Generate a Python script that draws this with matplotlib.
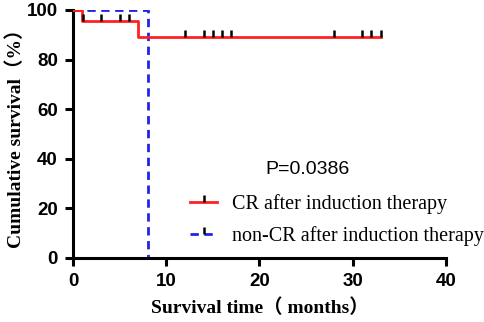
import matplotlib
matplotlib.use("Agg")
import matplotlib.pyplot as plt
from matplotlib.lines import Line2D

# Data
cr_times = [0, 1, 7, 33]
cr_surv = [100, 95.5, 89.2, 89.2]
cr_censor_t = [1.1, 3, 5, 6, 12, 14, 15, 16, 17, 28, 31, 32, 33]
noncr_times = [0, 8, 8]
noncr_surv = [100, 100, 0]
x_ticks = [0, 10, 20, 30, 40]
y_ticks = [0, 20, 40, 60, 80, 100]
p_text = "P=0.0386"
labels = ["CR after induction therapy", "non-CR after induction therapy"]

def surv_at(t):
    s = cr_surv[0]
    for tt, ss in zip(cr_times, cr_surv):
        if tt <= t:
            s = ss
    return s

fig = plt.figure(figsize=(4.84, 3.22), dpi=100)
ax = fig.add_axes([0.151, 0.199, 0.770, 0.770])

ax.plot(noncr_times, noncr_surv, color="#2323e6", lw=2.0, ls=(0, (3, 2)), zorder=2)
ax.step(cr_times, cr_surv, where="post", color="#ff2020", lw=2.0, zorder=3)
ax.plot(cr_censor_t, [surv_at(t) for t in cr_censor_t], ls="none", marker=2,
        ms=5, mew=1.8, color="black", zorder=4)

ax.set_xlim(0, 40)
ax.set_ylim(0, 100)
ax.set_xticks(x_ticks)
ax.set_yticks(y_ticks)
for s in ["top", "right"]:
    ax.spines[s].set_visible(False)
for s in ["left", "bottom"]:
    ax.spines[s].set_linewidth(2.2)
ax.tick_params(width=2.2, length=6, direction="out", labelsize=13.5, pad=5)
for lab in ax.get_xticklabels() + ax.get_yticklabels():
    lab.set_fontweight("bold")
    lab.set_family(["Liberation Sans"])

ax.set_xlabel("Survival time（ months）", family=["Liberation Serif", "Noto Sans CJK SC"],
              fontweight="bold", fontsize=14, labelpad=6)
ax.set_ylabel("Cumulative survival（%）", family=["Liberation Serif", "Noto Sans CJK SC"],
              fontweight="bold", fontsize=14, labelpad=1)

ax.text((265 - 73) / 373, (258 - 170) / 248, p_text, transform=ax.transAxes, fontsize=14,
        family=["Liberation Sans"], ha="left", va="center")

handles = [Line2D([0, 1], [0, 0], color="#ff2020", lw=2.0, marker=2, ms=5, mew=1.8, mec="black"),
           Line2D([0, 1], [0, 0], color="#2323e6", lw=2.0, ls=(0, (3, 2)), marker=2, ms=5, mew=1.8, mec="black")]
leg = ax.legend(handles, labels, loc="center left",
                bbox_to_anchor=((190 - 73) / 373, (258 - 220) / 248),
                frameon=False, prop={"family": "Liberation Serif", "size": 14.5},
                handlelength=1.35, handletextpad=0.75, labelspacing=0.6, numpoints=1,
                borderpad=0, borderaxespad=0)

fig.savefig("out.png", dpi=100)
